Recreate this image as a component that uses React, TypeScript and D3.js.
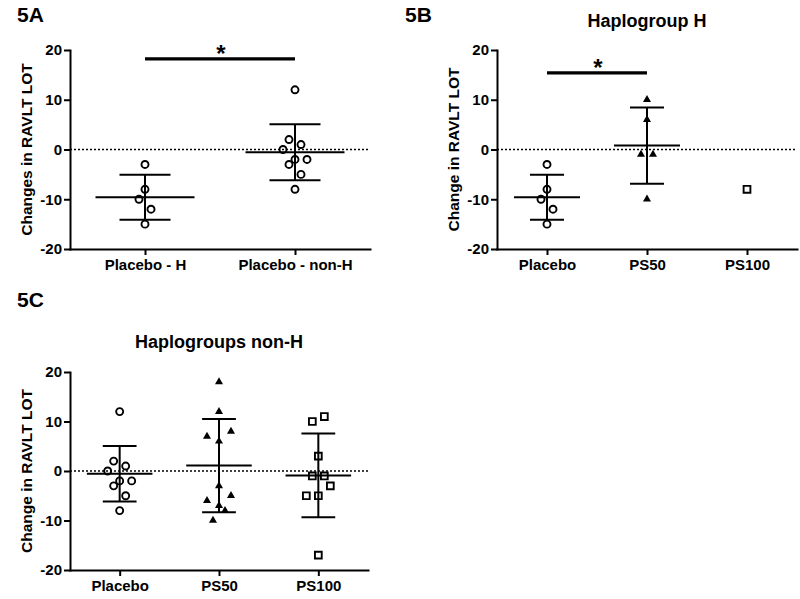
import React, { useEffect, useRef } from "react";
import * as d3 from "d3";

// axis / category labels
const yTicks = [-20, -10, 0, 10, 20];
const panelACategories = ["Placebo - H", "Placebo - non-H"];
const doseCategories = ["Placebo", "PS50", "PS100"];

// individual changes
const placeboH = [-3, -8, -10, -12, -15];
const placeboNonH = [12, 2, 1, 0, -2, -2, -3, -5, -8];
const ps50H = [10, 6, -1, -1, -10];
const ps100H = [-8];
const ps50NonH = [18, 12, 8, 7, 6, -3, -5, -6, -7, -8, -10];
const ps100NonH = [11, 10, 3, -1, -1, -3, -5, -5, -17];

// horizontal scatter slot of each point (same order as the values)
const placeboHSlots = [0, 0, -1, 1, 0];
const placeboNonHSlots = [0, -1, 1, -2, 0, 2, -1, 1, 0];
const ps50HSlots = [0, 0, -1, 1, 0];
const ps100HSlots = [0];
const ps50NonHSlots = [0, 0, 2, -2, 0, 0, 2, -2, 0, 1, -1];
const ps100NonHSlots = [1, -1, 0, -1, 1, 2, -2, 0, 0];

// significance brackets
const sigAValue = 18.2;
const sigBValue = 15.4;

type Shape = "circle" | "triangle" | "square";
type Group = { cat: string; values: number[]; slots: number[]; shape: Shape };

type Panel = {
  letter: string;
  letterX: number;
  letterY: number;
  title?: string;
  titleY?: number;
  x0: number;
  x1: number;
  yBottom: number;
  yTop: number;
  categories: string[];
  groups: Group[];
  yLabel: string;
  yLabelX: number;
  sig?: { from: string; to: string; value: number };
};

const FONT = "'Liberation Sans', Arial, Helvetica, sans-serif";
const SLOT = 6;

const panels: Panel[] = [
  {
    letter: "5A",
    letterX: 17,
    letterY: 22,
    x0: 70,
    x1: 370,
    yBottom: 249,
    yTop: 50,
    categories: panelACategories,
    groups: [
      { cat: panelACategories[0], values: placeboH, slots: placeboHSlots, shape: "circle" },
      { cat: panelACategories[1], values: placeboNonH, slots: placeboNonHSlots, shape: "circle" },
    ],
    yLabel: "Changes in RAVLT LOT",
    yLabelX: 26,
    sig: { from: panelACategories[0], to: panelACategories[1], value: sigAValue },
  },
  {
    letter: "5B",
    letterX: 405,
    letterY: 22,
    title: "Haplogroup H",
    titleY: 27,
    x0: 497,
    x1: 797,
    yBottom: 249,
    yTop: 50,
    categories: doseCategories,
    groups: [
      { cat: doseCategories[0], values: placeboH, slots: placeboHSlots, shape: "circle" },
      { cat: doseCategories[1], values: ps50H, slots: ps50HSlots, shape: "triangle" },
      { cat: doseCategories[2], values: ps100H, slots: ps100HSlots, shape: "square" },
    ],
    yLabel: "Change in RAVLT LOT",
    yLabelX: 453,
    sig: { from: doseCategories[0], to: doseCategories[1], value: sigBValue },
  },
  {
    letter: "5C",
    letterX: 17,
    letterY: 307,
    title: "Haplogroups non-H",
    titleY: 348,
    x0: 70,
    x1: 368,
    yBottom: 570,
    yTop: 372,
    categories: doseCategories,
    groups: [
      { cat: doseCategories[0], values: placeboNonH, slots: placeboNonHSlots, shape: "circle" },
      { cat: doseCategories[1], values: ps50NonH, slots: ps50NonHSlots, shape: "triangle" },
      { cat: doseCategories[2], values: ps100NonH, slots: ps100NonHSlots, shape: "square" },
    ],
    yLabel: "Change in RAVLT LOT",
    yLabelX: 26,
  },
];

function drawPanel(svg: any, p: Panel) {
  const g = svg.append("g");
  const y = d3.scaleLinear().domain([-20, 20]).range([p.yBottom, p.yTop]);
  const x = d3.scalePoint<string>().domain(p.categories).range([p.x0, p.x1]).padding(0.5);
  const step = x.step();

  // panel letter + title
  g.append("text")
    .attr("x", p.letterX)
    .attr("y", p.letterY)
    .attr("font-family", FONT)
    .attr("font-weight", "bold")
    .attr("font-size", 21)
    .text(p.letter);
  if (p.title) {
    g.append("text")
      .attr("x", (p.x0 + p.x1) / 2)
      .attr("y", p.titleY)
      .attr("text-anchor", "middle")
      .attr("font-family", FONT)
      .attr("font-weight", "bold")
      .attr("font-size", 18)
      .text(p.title);
  }

  // y label
  g.append("text")
    .attr("transform", `translate(${p.yLabelX},${(p.yTop + p.yBottom) / 2}) rotate(-90)`)
    .attr("dy", "0.36em")
    .attr("text-anchor", "middle")
    .attr("font-family", FONT)
    .attr("font-weight", "bold")
    .attr("font-size", 15.5)
    .text(p.yLabel);

  // zero line
  g.append("line")
    .attr("x1", p.x0)
    .attr("x2", p.x1)
    .attr("y1", y(0))
    .attr("y2", y(0))
    .attr("stroke", "#000")
    .attr("stroke-width", 1.6)
    .attr("stroke-dasharray", "2,2");

  // points
  p.groups.forEach((grp) => {
    const cx0 = x(grp.cat) as number;
    grp.values.forEach((v, i) => {
      const cx = cx0 + grp.slots[i] * SLOT;
      const cy = y(v);
      if (grp.shape === "circle") {
        g.append("circle")
          .attr("cx", cx)
          .attr("cy", cy)
          .attr("r", 3.5)
          .attr("fill", "none")
          .attr("stroke", "#000")
          .attr("stroke-width", 1.9);
      } else if (grp.shape === "triangle") {
        g.append("path")
          .attr("d", d3.symbol().type(d3.symbolTriangle).size(28)() as string)
          .attr("transform", `translate(${cx},${cy})`)
          .attr("fill", "#000");
      } else {
        g.append("path")
          .attr("d", d3.symbol().type(d3.symbolSquare).size(46)() as string)
          .attr("transform", `translate(${cx},${cy})`)
          .attr("fill", "none")
          .attr("stroke", "#000")
          .attr("stroke-width", 1.9);
      }
    });

    // mean +/- SD
    const m = d3.mean(grp.values) as number;
    const sd = d3.deviation(grp.values);
    if (sd === undefined) return;
    const bars = [
      [cx0, y(m + sd), cx0, y(m - sd)],
      [cx0 - step * 0.33, y(m), cx0 + step * 0.33, y(m)],
      [cx0 - step * 0.17, y(m + sd), cx0 + step * 0.17, y(m + sd)],
      [cx0 - step * 0.17, y(m - sd), cx0 + step * 0.17, y(m - sd)],
    ];
    bars.forEach((b) => {
      g.append("line")
        .attr("x1", b[0])
        .attr("y1", b[1])
        .attr("x2", b[2])
        .attr("y2", b[3])
        .attr("stroke", "#000")
        .attr("stroke-width", 2);
    });
  });

  // axes
  const yAxis = g
    .append("g")
    .attr("transform", `translate(${p.x0},0)`)
    .call(
      d3
        .axisLeft(y)
        .tickValues(yTicks)
        .tickFormat((d: any) => String(d))
        .tickSize(6)
        .tickPadding(2)
        .tickSizeOuter(0)
    );
  const xAxis = g
    .append("g")
    .attr("transform", `translate(0,${p.yBottom})`)
    .call(d3.axisBottom(x).tickSize(6).tickPadding(4).tickSizeOuter(0));
  [yAxis, xAxis].forEach((a) => {
    a.attr("font-family", FONT).attr("font-weight", "bold");
    a.select(".domain").attr("stroke-width", 2).attr("stroke-linecap", "square");
    a.selectAll(".tick line").attr("stroke-width", 2);
    a.selectAll("text").attr("fill", "#000");
  });
  yAxis.attr("font-size", 15);
  xAxis.attr("font-size", 15);

  // significance bracket
  if (p.sig) {
    const sy = y(p.sig.value);
    const xa = x(p.sig.from) as number;
    const xb = x(p.sig.to) as number;
    g.append("line")
      .attr("x1", xa)
      .attr("x2", xb)
      .attr("y1", sy)
      .attr("y2", sy)
      .attr("stroke", "#000")
      .attr("stroke-width", 3.2);
    g.append("text")
      .attr("x", (xa + xb) / 2 + 1)
      .attr("y", sy + 3.5)
      .attr("text-anchor", "middle")
      .attr("font-family", FONT)
      .attr("font-weight", "bold")
      .attr("font-size", 24)
      .text("*");
  }
}

const App = () => {
  const ref = useRef<SVGSVGElement>(null);

  useEffect(() => {
    const svg = d3.select(ref.current);
    svg.selectAll("*").remove();
    panels.forEach((p) => drawPanel(svg, p));
  }, []);

  return (
    <svg
      ref={ref}
      width={800}
      height={599}
      style={{ position: "absolute", left: 0, top: 0, background: "#fff" }}
    />
  );
};

export default App;
